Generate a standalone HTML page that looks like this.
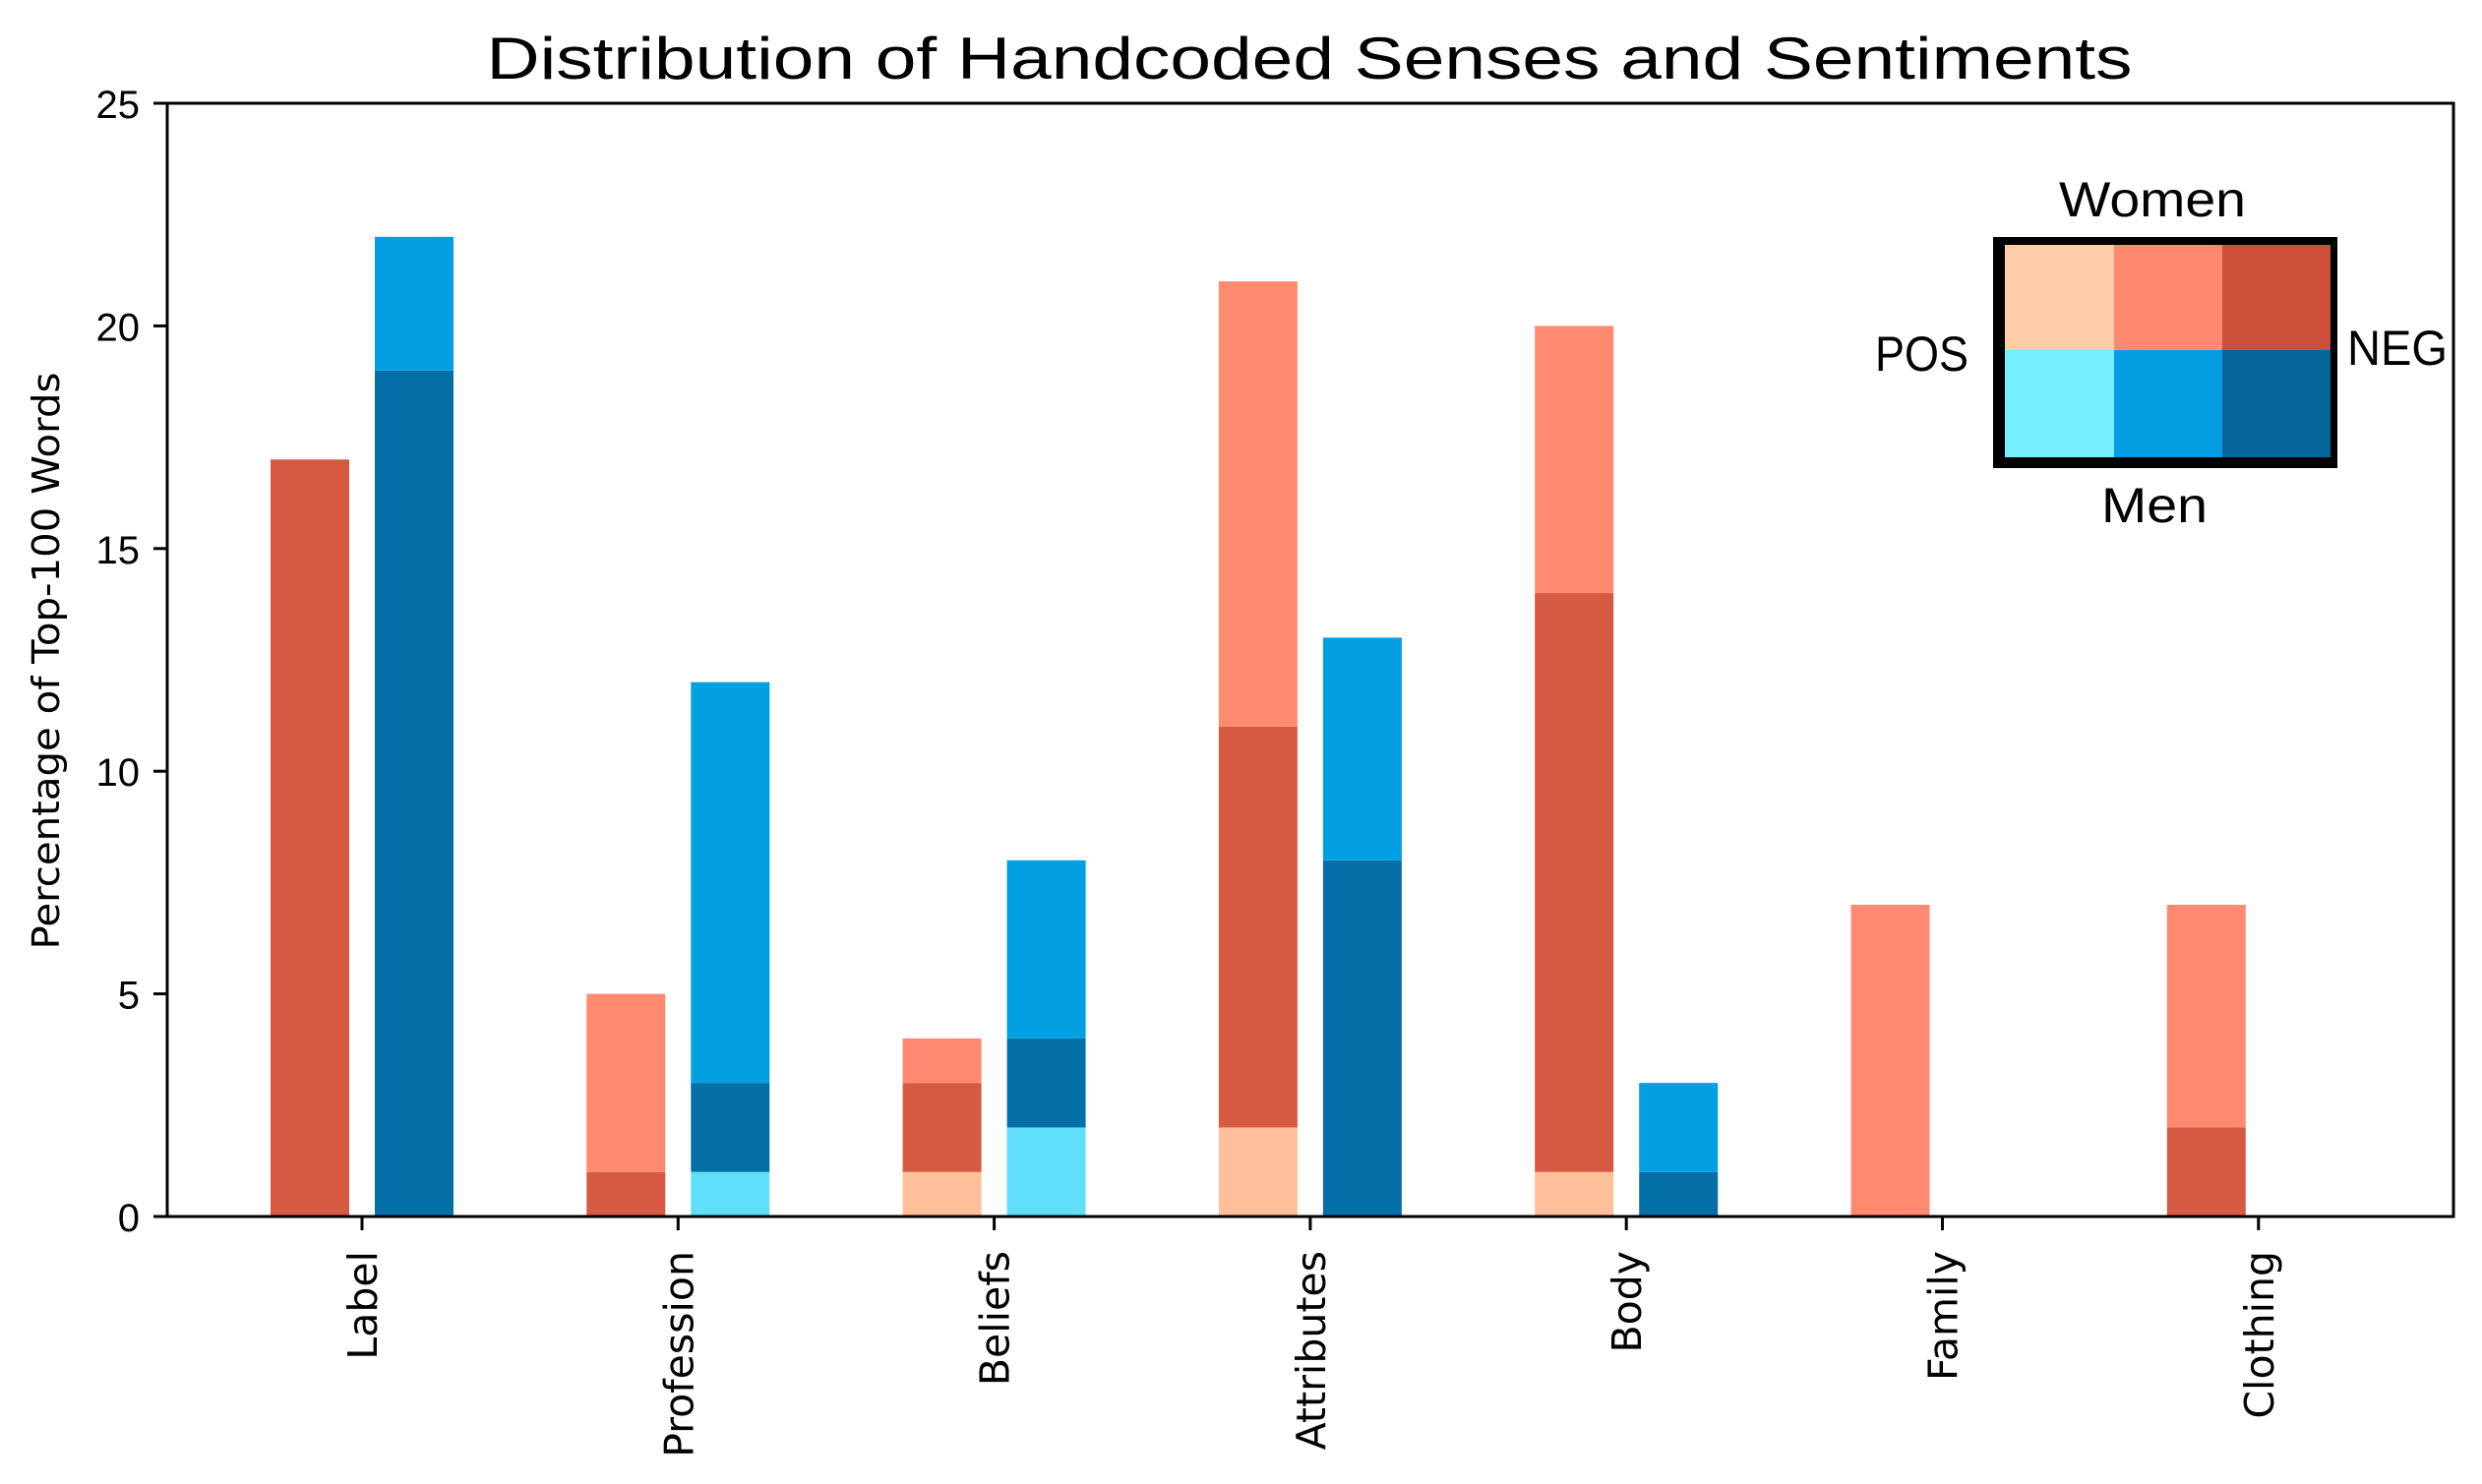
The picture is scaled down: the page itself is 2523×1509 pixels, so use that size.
<!DOCTYPE html>
<html><head><meta charset="utf-8"><style>
html,body{margin:0;padding:0;background:#fff;}
svg{display:block;}
</style></head><body>
<svg id="chart" width="2523" height="1509" viewBox="0 0 2523 1509" xmlns="http://www.w3.org/2000/svg">
<rect x="0" y="0" width="2523" height="1509" fill="#fff"/>
<text x="1331" y="80" text-anchor="middle" font-family="Liberation Sans, sans-serif" font-size="60" textLength="1673" lengthAdjust="spacingAndGlyphs">Distribution of Handcoded Senses and Sentiments</text>
<text transform="translate(60,672) rotate(-90)" text-anchor="middle" font-family="DejaVu Sans, sans-serif" font-size="38" textLength="587" lengthAdjust="spacingAndGlyphs">Percentage of Top-100 Words</text>
<g id="bars"></g>
<g id="axes"></g>
<g>
  <rect x="2026" y="241" width="350" height="235" fill="#000"/>
  <rect x="2038" y="249" width="111" height="107" fill="#fecca8"/>
  <rect x="2149" y="249" width="110" height="107" fill="#ff8970"/>
  <rect x="2259" y="249" width="110" height="107" fill="#cb4f39"/>
  <rect x="2038" y="356" width="111" height="109" fill="#76f0ff"/>
  <rect x="2149" y="356" width="110" height="109" fill="#039ee2"/>
  <rect x="2259" y="356" width="110" height="109" fill="#056599"/>
  <text x="2188" y="220" text-anchor="middle" font-family="Liberation Sans, sans-serif" font-size="50" textLength="190" lengthAdjust="spacingAndGlyphs">Women</text>
  <text x="2190" y="531" text-anchor="middle" font-family="Liberation Sans, sans-serif" font-size="50" textLength="108" lengthAdjust="spacingAndGlyphs">Men</text>
  <text x="1906" y="377" font-family="Liberation Sans, sans-serif" font-size="50" textLength="95" lengthAdjust="spacingAndGlyphs">POS</text>
  <text x="2386" y="371" font-family="Liberation Sans, sans-serif" font-size="50" textLength="102" lengthAdjust="spacingAndGlyphs">NEG</text>
</g>
</svg>
<script>
const categories = ["Label","Profession","Beliefs","Attributes","Body","Family","Clothing"];
const womenPos = [0,0,1,2,1,0,0];
const womenNeg = [17,1,2,9,13,0,2];
const womenNeu = [0,4,1,10,6,7,5];
const menPos = [0,1,2,0,0,0,0];
const menNeg = [19,2,2,8,1,0,0];
const menNeu = [3,9,4,5,2,0,0];
const yTicks = [0,5,10,15,20,25];

const NS = "http://www.w3.org/2000/svg";
const L = 170, R = 2494, T = 105, B = 1237;
const x0 = 368, step = 321.3;
function xScale(i){ return x0 + step*i; }
function yScale(v){ return B - (v/25)*(B-T); }
const barW = 80, off = 53;
const bars = document.getElementById('bars');
const axes = document.getElementById('axes');

function mk(tag, attrs, parent){
  const el = document.createElementNS(NS, tag);
  for (const k in attrs) el.setAttribute(k, attrs[k]);
  parent.appendChild(el);
  return el;
}
function stack(i, cx, segs, prefix){
  let base = 0;
  segs.forEach(s => {
    const v = s.vals[i];
    if (v > 0) {
      const r = mk('rect', {x: cx - barW/2, y: yScale(base+v), width: barW, height: yScale(base)-yScale(base+v), fill: s.color}, bars);
      
      
    }
    base += v;
  });
}
categories.forEach((c, i) => {
  const cx = xScale(i);
  stack(i, cx - off, [
    {vals: womenPos, color: '#ffbf9a', name: 'pos'},
    {vals: womenNeg, color: '#d65a42', name: 'neg'},
    {vals: womenNeu, color: '#ff8a70', name: 'neu'}], 'women-bar');
  stack(i, cx + off, [
    {vals: menPos, color: '#5fdffa', name: 'pos'},
    {vals: menNeg, color: '#0570a7', name: 'neg'},
    {vals: menNeu, color: '#039fe3', name: 'neu'}], 'men-bar');
  const t = mk('line', {x1: cx, x2: cx, y1: B, y2: B+14, stroke: '#000', 'stroke-width': 3}, axes);
  
  
  const lb = mk('text', {transform: 'translate(' + (cx+15) + ',1272) rotate(-90)', 'text-anchor': 'end', 'font-family': 'DejaVu Sans, sans-serif', 'font-size': 41}, axes);
  lb.textContent = c;
  
  
});
yTicks.forEach(v => {
  const y = yScale(v);
  const t = mk('line', {x1: L-14, x2: L, y1: y, y2: y, stroke: '#000', 'stroke-width': 3}, axes);
  
  
  const lb = mk('text', {x: L-28, y: y+15, 'text-anchor': 'end', 'font-family': 'Liberation Sans, sans-serif', 'font-size': 40}, axes);
  lb.textContent = v;
  
  
});
const frame = mk('rect', {x: L, y: T, width: R-L, height: B-T, fill: 'none', stroke: '#000', 'stroke-width': 3}, axes);


</script>
</body></html>
